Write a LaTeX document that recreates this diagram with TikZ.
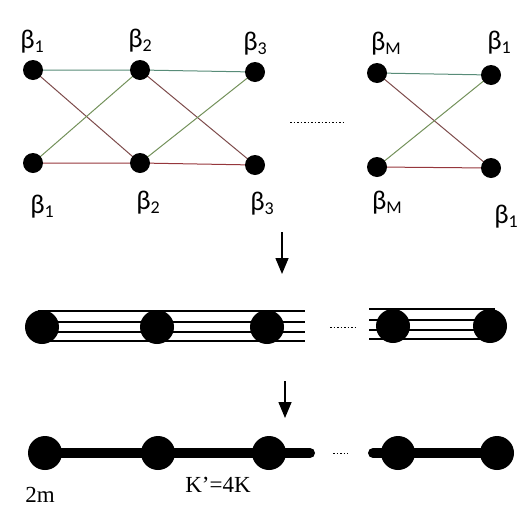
\documentclass[tikz,border=0pt]{standalone}
\usepackage{fontspec}
\setmainfont{Liberation Serif}
\newfontfamily\betafont{Carlito}
\usetikzlibrary{arrows.meta, backgrounds}

\definecolor{topgreen}{RGB}{88,140,120}
\definecolor{botred}{RGB}{150,55,60}
\definecolor{downbrown}{RGB}{125,75,75}
\definecolor{upgreen}{RGB}{115,145,90}
\newcommand{\bsub}[1]{\raisebox{-0.15em}{\fontsize{18}{18}\selectfont #1}}

\begin{document}
\begin{tikzpicture}[x=1pt, y=-1pt,
    dot/.style={circle, fill=black, inner sep=0pt, minimum size=20pt},
    bigdot/.style={circle, fill=black, inner sep=0pt, minimum size=34pt},
    lab/.style={font=\betafont\fontsize{27}{27}\selectfont, inner sep=0pt},
    txt/.style={font=\fontsize{23}{23}\selectfont, inner sep=0pt},
    edge/.style={line width=1pt},
    dots/.style={line width=0.8pt, dash pattern=on 1.5pt off 2pt},
    down/.style={-{Triangle[width=13pt,length=16pt]}, line width=1.5pt}]
  \useasboundingbox (0,0) rectangle (524,509);
  % 上层: beta 图
  \node[dot] (t1) at (33,70) {};
  \node[dot] (t2) at (140,70) {};
  \node[dot] (t3) at (255,72) {};
  \node[dot] (b1) at (33,163) {};
  \node[dot] (b2) at (140,163) {};
  \node[dot] (b3) at (255,165) {};
  \node[dot] (tM) at (377,73) {};
  \node[dot] (tR) at (491,75) {};
  \node[dot] (bM) at (377,167) {};
  \node[dot] (bR) at (491,168) {};
  \begin{scope}[on background layer]
    \draw[edge, topgreen] (t1.center) -- (t2.center) -- (t3.center);
    \draw[edge, botred] (b1.center) -- (b2.center) -- (b3.center);
    \draw[edge, downbrown] (t1.center) -- (b2.center);
    \draw[edge, downbrown] (t2.center) -- (b3.center);
    \draw[edge, upgreen] (b1.center) -- (t2.center);
    \draw[edge, upgreen] (b2.center) -- (t3.center);
    \draw[edge, topgreen] (tM.center) -- (tR.center);
    \draw[edge, botred] (bM.center) -- (bR.center);
    \draw[edge, downbrown] (tM.center) -- (bR.center);
    \draw[edge, upgreen] (bM.center) -- (tR.center);
  \end{scope}
  \node[lab] (lt1) at (32,42) {β\bsub{1}};
  \node[lab] (lt2) at (140,41) {β\bsub{2}};
  \node[lab] (lt3) at (255,44) {β\bsub{3}};
  \node[lab] (lb1) at (42,207) {β\bsub{1}};
  \node[lab] (lb2) at (148,203) {β\bsub{2}};
  \node[lab] (lb3) at (262,204) {β\bsub{3}};
  \node[lab] (ltM) at (386,44) {β\bsub{M}};
  \node[lab] (ltR) at (499,43) {β\bsub{1}};
  \node[lab] (lbM) at (387,203) {β\bsub{M}};
  \node[lab] (lbR) at (506,217) {β\bsub{1}};
  \coordinate (d1l) at (290,122);
  \coordinate (d1r) at (345,122);
  \draw[dots] (d1l) -- (d1r);
  % 第一个箭头
  \coordinate (a1s) at (282,232);
  \coordinate (a1e) at (282,274);
  \draw[down] (a1s) -- (a1e);
  % 中层: 四条弹簧
  \node[bigdot] (m1) at (42,327) {};
  \node[bigdot] (m2) at (157,327) {};
  \node[bigdot] (m3) at (267,327) {};
  \node[bigdot] (m4) at (393,326) {};
  \node[bigdot] (m5) at (490,326) {};
  \coordinate (mll) at (38,327);
  \coordinate (mlr) at (305,327);
  \coordinate (mrl) at (369,325);
  \coordinate (mrr) at (495,325);
  \begin{scope}[on background layer]
    \foreach \dy in {16,5.5,-4.5,-13.5} {
      \draw[line width=2pt] ([yshift=\dy pt]mll) -- ([yshift=\dy pt]mlr);
      \draw[line width=2pt] ([yshift=\dy pt]mrl) -- ([yshift=\dy pt]mrr);
    }
  \end{scope}
  \coordinate (d2l) at (330,327);
  \coordinate (d2r) at (357,327);
  \draw[dots] (d2l) -- (d2r);
  % 第二个箭头
  \coordinate (a2s) at (285,381);
  \coordinate (a2e) at (285,418);
  \draw[down] (a2s) -- (a2e);
  % 下层: 一条粗弹簧
  \node[bigdot] (s1) at (45,453) {};
  \node[bigdot] (s2) at (158,453) {};
  \node[bigdot] (s3) at (269,453) {};
  \node[bigdot] (s4) at (398,453) {};
  \node[bigdot] (s5) at (497,453) {};
  \coordinate (sl) at (310,453);
  \coordinate (sr) at (373,453);
  \begin{scope}[on background layer]
    \draw[line width=10pt, line cap=round] (s1.center) -- (sl);
    \draw[line width=10pt, line cap=round] (sr) -- (s5.center);
  \end{scope}
  \coordinate (d3l) at (333,453);
  \coordinate (d3r) at (348,453);
  \draw[dots] (d3l) -- (d3r);
  \node[txt] (mass) at (40,495) {2m};
  \node[txt] (spring) at (218,485) {K'=4K};
\end{tikzpicture}
\end{document}
